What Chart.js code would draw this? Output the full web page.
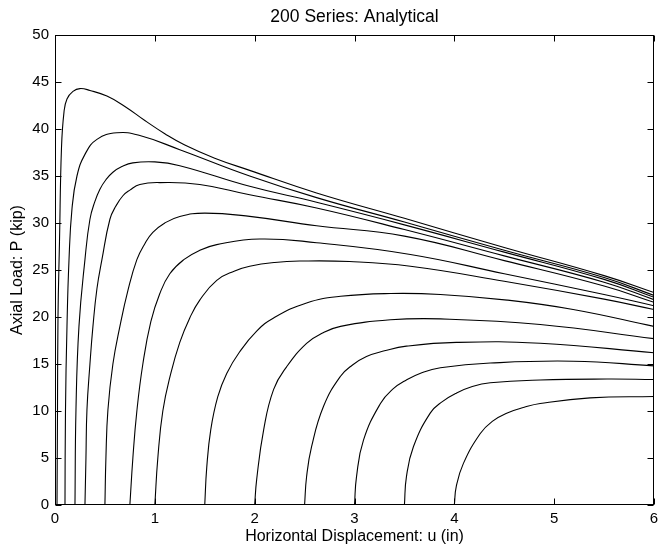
<!DOCTYPE html>
<html>
<head>
<meta charset="utf-8">
<script src="https://cdn.jsdelivr.net/npm/chart.js@4.4.0/dist/chart.umd.min.js"></script>
<style>
html, body { margin: 0; padding: 0; background: #ffffff; }
#wrap { width: 668px; height: 546px; }
</style>
</head>
<body>
<div id="wrap"><canvas id="loadChart"></canvas></div>
<script>
// Horizontal displacement u (in) and axial load P (kip), one pair per curve
const u1 = [0.02, 0.025, 0.03, 0.045, 0.065, 0.09, 0.12, 0.18, 0.25, 0.35, 0.52, 0.7, 0.9, 1.1, 1.3, 1.6, 1.95, 2.62, 3.5, 4.5, 5.5, 6];
const p1 = [0, 10, 20, 28, 38, 41.8, 43.2, 44.0, 44.3, 44.1, 43.5, 42.4, 40.9, 39.5, 38.3, 36.9, 35.6, 33.2, 30.5, 27.4, 24.4, 22.6];
const u2 = [0.1, 0.105, 0.12, 0.14, 0.17, 0.22, 0.3, 0.42, 0.62, 0.85, 1.25, 1.95, 2.62, 3.5, 4.5, 5.5, 6];
const p2 = [0, 10, 19, 26, 31.5, 35, 37.3, 38.9, 39.6, 39.3, 37.8, 35.0, 32.7, 30.1, 27.1, 24.2, 22.3];
const u3 = [0.2, 0.21, 0.24, 0.3, 0.35, 0.4, 0.45, 0.51, 0.58, 0.67, 0.78, 1.0, 1.25, 1.95, 2.62, 3.5, 4.5, 5.5, 6];
const p3 = [0, 10.1, 19, 26.1, 30.4, 32.3, 33.6, 34.6, 35.4, 36.0, 36.4, 36.5, 36.1, 33.9, 32.2, 29.8, 26.9, 24.0, 22.1];
const u4 = [0.3, 0.31, 0.32, 0.35, 0.38, 0.42, 0.47, 0.55, 0.61, 0.68, 0.75, 0.85, 1.05, 1.45, 1.95, 2.62, 3.5, 4.5, 5.5, 6];
const p4 = [0, 5, 10.1, 15, 19, 23, 26.1, 30.4, 31.8, 32.9, 33.5, 34.1, 34.3, 34.1, 33.0, 31.6, 29.3, 26.5, 23.7, 21.85];
const u5 = [0.5, 0.51, 0.53, 0.58, 0.65, 0.73, 0.82, 0.9, 0.98, 1.1, 1.25, 1.5, 1.95, 2.62, 3.5, 4.5, 5.5, 6];
const p5 = [0, 5, 10.1, 15, 19, 22.8, 26.1, 27.8, 29.0, 30.0, 30.7, 31.05, 30.7, 29.7, 28.6, 26.0, 23.3, 21.57];
const u6 = [0.75, 0.78, 0.82, 0.88, 0.96, 1.05, 1.15, 1.29, 1.45, 1.62, 2.05, 2.62, 3.56, 4.5, 5.5, 6];
const p6 = [0, 5, 10, 15, 19.5, 22.5, 24.6, 26.1, 27.1, 27.7, 28.3, 27.9, 26.65, 24.6, 22.4, 21.2];
const u7 = [1.0, 1.03, 1.08, 1.16, 1.25, 1.35, 1.45, 1.62, 1.8, 1.95, 2.2, 2.45, 2.95, 3.56, 4.5, 5.5, 6];
const p7 = [0, 5, 10, 14, 17.3, 19.9, 21.8, 23.9, 24.9, 25.4, 25.8, 25.95, 25.9, 25.4, 23.8, 21.9, 20.8];
const u8 = [1.5, 1.52, 1.56, 1.63, 1.72, 1.85, 2.02, 2.19, 2.52, 2.86, 3.36, 3.86, 4.53, 5.19, 6];
const p8 = [0, 4, 8, 11.5, 14, 16.3, 18.5, 19.9, 21.5, 22.2, 22.5, 22.4, 21.8, 20.8, 19.0];
const u9 = [2.0, 2.02, 2.09, 2.19, 2.32, 2.52, 2.68, 2.86, 3.36, 3.86, 4.86, 6];
const p9 = [0, 2.7, 8, 12.3, 14.7, 17.2, 18.3, 19.0, 19.7, 19.8, 19.2, 17.7];
const u10 = [2.5, 2.52, 2.57, 2.69, 2.86, 2.98, 3.12, 3.3, 3.52, 4.02, 4.86, 6];
const p10 = [0, 3, 6.2, 10.5, 13.7, 14.9, 15.8, 16.4, 16.9, 17.3, 17.2, 16.2];
const u11 = [3.0, 3.02, 3.09, 3.26, 3.38, 3.52, 3.68, 3.86, 4.36, 5.19, 6];
const p11 = [0, 3, 6.9, 10.8, 12.3, 13.3, 14.1, 14.6, 15.1, 15.3, 14.8];
const u12 = [3.5, 3.52, 3.59, 3.76, 3.88, 4.02, 4.18, 4.36, 4.86, 5.53, 6];
const p12 = [0, 3, 6.2, 9.8, 11.0, 11.9, 12.6, 13.0, 13.3, 13.4, 13.35];
const u13 = [4.0, 4.02, 4.09, 4.26, 4.38, 4.53, 4.7, 4.86, 5.36, 6];
const p13 = [0, 2, 4.4, 7.6, 8.9, 9.8, 10.4, 10.8, 11.4, 11.55];

const xTicks = [0, 1, 2, 3, 4, 5, 6];
const yTicks = [0, 5, 10, 15, 20, 25, 30, 35, 40, 45, 50];

const curves = [
    [u1, p1], [u2, p2], [u3, p3], [u4, p4], [u5, p5], [u6, p6], [u7, p7],
    [u8, p8], [u9, p9], [u10, p10], [u11, p11], [u12, p12], [u13, p13]
];

// matlab style box with inward ticks on all four sides
const boxTicks = {
    id: 'boxTicks',
    afterDatasetsDraw(chart) {
        const { ctx, chartArea: a, scales: { x, y } } = chart;
        const L = Math.round(a.left) + 0.5, R = Math.round(a.right) - 0.5;
        const T = Math.round(a.top) + 0.5, B = Math.round(a.bottom) - 0.5;
        const len = 6;
        ctx.save();
        ctx.strokeStyle = '#000';
        ctx.lineWidth = 1;
        ctx.strokeRect(L, T, R - L, B - T);
        ctx.beginPath();
        xTicks.forEach(v => {
            const px = Math.round(x.getPixelForValue(v)) + 0.5;
            ctx.moveTo(px, B); ctx.lineTo(px, B - len);
            ctx.moveTo(px, T); ctx.lineTo(px, T + len);
        });
        yTicks.forEach(v => {
            const py = Math.round(y.getPixelForValue(v)) + 0.5;
            ctx.moveTo(L, py); ctx.lineTo(L + len, py);
            ctx.moveTo(R, py); ctx.lineTo(R - len, py);
        });
        ctx.stroke();
        ctx.restore();
    }
};

function initChart() {
    const ctx = document.getElementById('loadChart').getContext('2d');
    const font = 'Liberation Sans, Arial, Helvetica, sans-serif';

    new Chart(ctx, {
        type: 'line',
        data: {
            datasets: curves.map(([u, p]) => ({
                data: u.map((v, i) => ({ x: v, y: p[i] })),
                borderColor: '#000',
                borderWidth: 1.1,
                pointRadius: 0,
                fill: false,
                tension: 0.45
            }))
        },
        options: {
            responsive: true,
            maintainAspectRatio: false,
            animation: false,
            layout: { padding: { left: 0, right: 14, top: 0, bottom: 0 } },
            plugins: {
                legend: { display: false },
                tooltip: { enabled: false },
                title: {
                    display: true,
                    fullSize: false,
                    text: '200 Series: Analytical',
                    color: '#000',
                    font: { family: font, size: 17.5, weight: 'normal' },
                    padding: { top: 7, bottom: 7 }
                }
            },
            scales: {
                x: {
                    type: 'linear',
                    min: 0,
                    max: 6,
                    grid: { display: false, drawTicks: false },
                    border: { display: false },
                    afterBuildTicks: s => { s.ticks = xTicks.map(v => ({ value: v })); },
                    afterFit: s => { s.height = 41; },
                    ticks: {
                        color: '#000',
                        padding: 5,
                        maxRotation: 0,
                        font: { family: font, size: 15 }
                    },
                    title: {
                        display: true,
                        text: 'Horizontal Displacement: u (in)',
                        color: '#000',
                        font: { family: font, size: 16 },
                        padding: { top: 0, bottom: 0 }
                    }
                },
                y: {
                    min: 0,
                    max: 50,
                    grid: { display: false, drawTicks: false },
                    border: { display: false },
                    afterBuildTicks: s => { s.ticks = yTicks.map(v => ({ value: v })); },
                    afterFit: s => { s.width = 55; },
                    ticks: {
                        color: '#000',
                        padding: 6,
                        font: { family: font, size: 15 }
                    },
                    title: {
                        display: true,
                        text: 'Axial Load: P (kip)',
                        color: '#000',
                        font: { family: font, size: 16 },
                        padding: { top: 8, bottom: 0 }
                    }
                }
            }
        },
        plugins: [boxTicks]
    });
}

window.addEventListener('load', () => {
    initChart();
});
</script>
</body>
</html>
